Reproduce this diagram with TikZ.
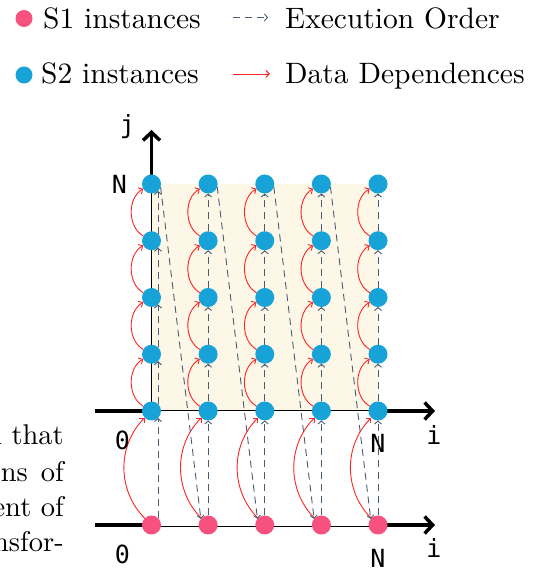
\documentclass[tikz,border=0pt]{standalone}
\usepackage{fontspec}
\usetikzlibrary{arrows.meta,backgrounds,calc}
\newfontfamily\monof{DejaVu Sans Mono}
\newfontfamily\tenrm{lmroman10-regular.otf}
\definecolor{sonecol}{HTML}{F7527F}
\definecolor{stwocol}{HTML}{17A2D8}
\definecolor{creamcol}{HTML}{FDF7E7}
\definecolor{execcol}{HTML}{4A5C72}
\definecolor{depcol}{HTML}{FF2424}
\tikzset{
  sone/.style={circle, fill=sonecol, minimum size=19pt, inner sep=0pt, outer sep=0pt},
  stwo/.style={circle, fill=stwocol, minimum size=19pt, inner sep=0pt, outer sep=0pt},
  dep/.style={draw=depcol, line width=0.9pt, -{Straight Barb[length=3.5pt,width=7pt]}},
  exec/.style={draw=execcol, line width=0.9pt, dash pattern=on 7pt off 5pt, -{Straight Barb[length=3pt,width=7pt]}},
  axisline/.style={line width=3.5pt, line cap=butt},
  axisarrow/.style={line width=3.5pt, -{Straight Barb[length=8pt,width=17pt]}},
  thinline/.style={line width=1pt},
  legtext/.style={inner sep=0pt, font=\tenrm\fontsize{29.5}{35}\selectfont},
  partext/.style={inner sep=0pt, anchor=base east, font=\tenrm\fontsize{28.5}{33}\selectfont},
  labtext/.style={inner sep=0pt, anchor=base, font=\monof\fontsize{25}{30}\selectfont},
}
\begin{document}
\begin{tikzpicture}[x=1pt,y=1pt]
\useasboundingbox (0,0) rectangle (536,572);
\clip (0,0) rectangle (536,572);

% nodes
\foreach \i in {1,...,5}{
  \node[sone] (a\i) at ({151.5+56.625*(\i-1)}, 47) {};
  \foreach \j in {0,...,4}{
    \node[stwo] (b\i-\j) at ({151.5+56.625*(\i-1)}, {161+56.75*\j}) {};
  }
}

\coordinate (yl) at (95,161);
\coordinate (yr) at (435,161);
\coordinate (zl) at (95,47);
\coordinate (zr) at (435,47);
\coordinate (jt) at (151.5,442);

\begin{pgfonlayer}{background}
  \fill[creamcol] (b1-0.center) rectangle (b5-4.center);
  \draw[thinline] (b1-4.center) -- (b1-0.center) -- (b5-0.center);
  \draw[axisline] (yl) -- (b1-0.center);
  \draw[axisarrow] (b5-0.center) -- (yr);
  \draw[axisarrow] (b1-4.center) -- (jt);
  \draw[axisline] (zl) -- (a1.center);
  \draw[line width=0.8pt, double, double distance=3pt] (a1.center) -- (a5.center);
  \draw[axisarrow] (a5.center) -- (zr);
\end{pgfonlayer}

% data dependences
\foreach \i in {1,...,5}{
  \draw[dep] (a\i) to[bend left=45] (b\i-0);
  \foreach \j [evaluate=\j as \k using int(\j+1)] in {0,...,3}{
    \draw[dep] (b\i-\j) to[bend left=60] (b\i-\k);
  }
}

% execution order
\foreach \i in {1,...,5}{
  \ifnum\i=1 \def\an{47}\else\def\an{90}\fi
  \draw[exec] (a\i.\an) -- (b\i-0.-\an);
  \foreach \j [evaluate=\j as \k using int(\j+1)] in {0,...,3}{
    \draw[exec] (b\i-\j.\an) -- (b\i-\k.-\an);
  }
}
\foreach \i [evaluate=\i as \k using int(\i+1)] in {1,...,4}{
  \draw[exec] (b\i-4.-17) -- (a\k.140);
}

% axis labels
\node[labtext] (lj) at (127.5,438) {j};
\node[labtext] (lnj) at (119.5,378.7) {N};
\node[labtext] (l0a) at (122.5,122) {0};
\node[labtext] (lna) at (378,119) {N};
\node[labtext] (lia) at (434,127) {i};
\node[labtext] (l0b) at (122.5,9) {0};
\node[labtext] (lnb) at (378,5) {N};
\node[labtext] (lib) at (434,14) {i};

% legend
\node[sone, minimum size=17pt] (k1) at (24,553.5) {};
\node[legtext, anchor=base west] (t1) at (43,543) {S1 instances};
\node[stwo, minimum size=17pt] (k2) at (24,497) {};
\node[legtext, anchor=base west] (t2) at (41,488) {S2 instances};
\coordinate (e1) at (233,554.5);
\coordinate (e2) at (268,554.5);
\draw[exec] (e1) -- (e2);
\node[legtext, anchor=base west] (t3) at (285,543) {Execution Order};
\coordinate (d1) at (233,498);
\coordinate (d2) at (270,498);
\draw[dep] (d1) -- (d2);
\node[legtext, anchor=base west] (t4) at (285,488) {Data Dependences};

% clipped paragraph text (cut at the left edge, as in the reference)
\node[partext] (p1) at (64,127) {l that};
\node[partext] (p2) at (64,90.3) {ns\hspace{13pt}of};
\node[partext] (p3) at (64,55.3) {ent of};
\node[partext] (p4) at (64,20.3) {nsfor-};
\end{tikzpicture}
\end{document}
